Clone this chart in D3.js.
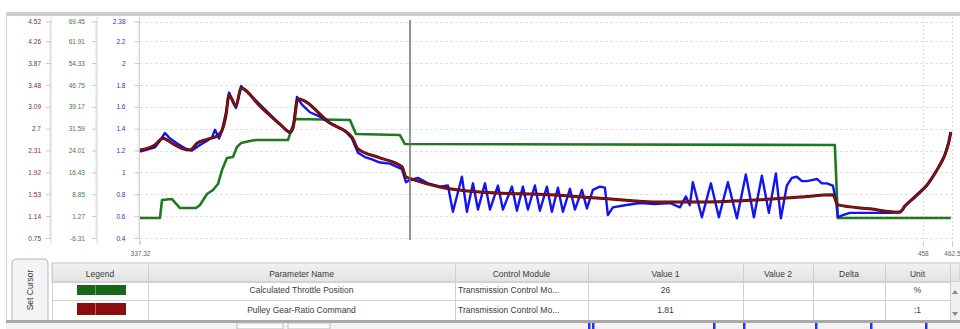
<!DOCTYPE html>
<html>
<head>
<meta charset="utf-8">
<script src="https://cdn.jsdelivr.net/npm/d3@7/dist/d3.min.js"></script>
<style>
  html, body { margin: 0; padding: 0; background: #ffffff; }
  svg { display: block; font-family: "Liberation Sans", Arial, sans-serif; }
</style>
</head>
<body>
<svg id="chart" width="960" height="329"></svg>
<script>
// ---------------- DATA ----------------
// time axis
const xDomain = [337.32, 462.5];
const xTickValues = [337.32, 458, 462.5];
const cursorTime = 378.94;

// blue trace (left blue axis)
const blueTicks = [0.4, 0.6, 0.8, 1, 1.2, 1.4, 1.6, 1.8, 2, 2.2];
const blueTop = 2.38;
// red axis (Pulley Gear-Ratio Command)
const redTicks = [0.75, 1.14, 1.53, 1.92, 2.31, 2.7, 3.09, 3.48, 3.87, 4.26];
const redTopLabel = "4.52";
const redTop = 4.611;
// green axis (Calculated Throttle Position, %)
const greenTicks = [-6.31, 1.27, 8.85, 16.43, 24.01, 31.59, 39.17, 46.75, 54.33, 61.91];
const greenTopLabel = "69.45";
const greenTop = 68.73;

// Calculated Throttle Position (%)
const throttleTime = [337.32, 340.40, 340.71, 342.25, 343.49, 345.95, 346.57, 347.65, 348.57, 349.34,
  349.96, 350.73, 351.65, 352.27, 352.89, 354.27, 355.20, 360.13, 360.75, 361.21,
  369.69, 370.61, 377.39, 378.17, 444.44, 444.90, 462.32];
const throttleValue = [0.62, 0.62, 6.85, 7.20, 4.08, 4.08, 5.12, 8.93, 10.32, 12.40,
  17.25, 21.41, 21.75, 25.22, 26.60, 27.29, 27.64, 27.64, 31.80, 34.92,
  34.57, 29.72, 29.37, 26.26, 25.91, 0.62, 0.62];

// Pulley Gear-Ratio Command (:1)
const pulleyTime = [337.32, 339.63, 340.87, 342.25, 343.95, 345.03, 346.11, 347.65, 349.19, 349.96,
  350.58, 351.04, 352.12, 352.89, 355.82, 358.90, 360.44, 360.90, 361.67, 366.61,
  370.00, 370.92, 374.31, 377.70, 378.32, 379.24, 383.56, 389.73, 400.51, 408.22,
  417.47, 423.63, 432.88, 439.05, 444.13, 444.90, 449.84, 454.46, 455.23, 456.77,
  458.62, 460.16, 461.40, 462.01, 462.32];
const pulleyValue = [2.32, 2.41, 2.53, 2.44, 2.34, 2.32, 2.44, 2.51, 2.57, 2.67,
  2.94, 3.30, 3.10, 3.42, 3.10, 2.78, 2.64, 2.71, 3.23, 2.80,
  2.55, 2.34, 2.18, 2.02, 1.84, 1.80, 1.66, 1.57, 1.52, 1.46,
  1.39, 1.39, 1.43, 1.48, 1.52, 1.34, 1.27, 1.21, 1.32, 1.48,
  1.69, 1.96, 2.23, 2.46, 2.64];

// Actual ratio trace (blue axis)
const actualTime = [337.32, 339.63, 340.40, 341.17, 341.94, 343.18, 344.26, 345.34, 346.57, 347.65,
  348.42, 348.88, 349.50, 349.96, 350.58, 351.04, 352.12, 352.89, 355.82, 358.90,
  360.44, 360.90, 361.52, 362.29, 363.52, 365.06, 366.61, 368.92, 370.00, 370.92,
  372.00, 373.08, 374.31, 375.85, 377.70, 378.32, 378.94, 380.17, 381.71, 383.56,
  384.79, 385.56, 386.95, 387.72, 388.65, 389.42, 390.50, 391.27, 392.50, 393.27,
  394.66, 395.43, 396.35, 397.12, 398.20, 398.97, 400.05, 400.82, 401.75, 402.52,
  403.60, 404.37, 405.45, 406.22, 407.14, 408.22, 408.99, 409.45, 410.22, 412.07,
  414.39, 416.70, 419.01, 420.55, 421.48, 422.09, 422.55, 423.94, 425.33, 426.56,
  427.95, 429.34, 430.72, 431.96, 433.19, 434.27, 435.35, 436.12, 437.04, 437.81,
  438.58, 439.36, 440.13, 440.90, 441.67, 442.44, 443.21, 444.13, 444.60, 444.90,
  445.67, 446.75, 449.84, 452.92, 454.46, 454.92, 455.23, 456.77, 458.62, 460.16,
  461.40, 462.01, 462.32];
const actualValue = [1.19, 1.23, 1.29, 1.36, 1.31, 1.26, 1.22, 1.20, 1.25, 1.29,
  1.32, 1.39, 1.31, 1.38, 1.55, 1.73, 1.59, 1.79, 1.62, 1.44,
  1.36, 1.40, 1.69, 1.62, 1.55, 1.51, 1.45, 1.38, 1.31, 1.18,
  1.14, 1.12, 1.09, 1.08, 1.03, 0.91, 0.93, 0.95, 0.90, 0.87,
  0.88, 0.64, 0.96, 0.64, 0.90, 0.66, 0.90, 0.66, 0.88, 0.66,
  0.87, 0.65, 0.87, 0.66, 0.88, 0.65, 0.87, 0.64, 0.86, 0.64,
  0.85, 0.66, 0.84, 0.67, 0.84, 0.87, 0.86, 0.61, 0.68, 0.70,
  0.72, 0.71, 0.72, 0.68, 0.78, 0.70, 0.91, 0.59, 0.90, 0.59,
  0.91, 0.58, 0.98, 0.59, 0.97, 0.63, 0.99, 0.58, 0.88, 0.95,
  0.96, 0.92, 0.92, 0.93, 0.94, 0.90, 0.90, 0.88, 0.75, 0.59,
  0.61, 0.63, 0.63, 0.63, 0.64, 0.66, 0.69, 0.78, 0.88, 1.02,
  1.16, 1.28, 1.37];

// table
const tableHeaders = ["Legend", "Parameter Name", "Control Module", "Value 1", "Value 2", "Delta", "Unit"];
const paramNames = ["Calculated Throttle Position", "Pulley Gear-Ratio Command"];
const paramModules = ["Transmission Control Mo...", "Transmission Control Mo..."];
const paramValue1 = ["26", "1.81"];
const paramValue2 = ["", ""];
const paramDelta = ["", ""];
const paramUnits = ["%", ":1"];
const tabLabel = "Set Cursor";

// ---------------- DRAW ----------------
const svg = d3.select("#chart");
const colBlue = "#1414f0", colRed = "#8e1414", colRedDark = "#4e0808", colGreen = "#1f7a1f";
const plotL = 140, plotR = 952, plotT = 21.5, plotB = 238;

const x = d3.scaleLinear().domain(xDomain).range([plotL, plotR]);
const yBlue = d3.scaleLinear().domain([blueTicks[0], blueTop]).range([plotB, plotT]);
const yRed = d3.scaleLinear().domain([redTicks[0], redTop]).range([plotB, plotT]);
const yGreen = d3.scaleLinear().domain([greenTicks[0], greenTop]).range([plotB, plotT]);

// frame
svg.append("rect").attr("x", 6).attr("y", 12).attr("width", 954).attr("height", 4).attr("fill", "#cdcdcd");
svg.append("line").attr("x1", 6.5).attr("x2", 6.5).attr("y1", 12).attr("y2", 323).attr("stroke", "#d4d4d4");

// horizontal grid
svg.append("g").selectAll("line").data(blueTicks.concat([blueTop])).join("line")
  .attr("x1", plotL).attr("x2", plotR)
  .attr("y1", d => Math.round(yBlue(d)) + 0.5).attr("y2", d => Math.round(yBlue(d)) + 0.5)
  .attr("stroke", "#e3e3e3").attr("stroke-dasharray", "3,2");
// vertical grid
svg.append("g").selectAll("line").data(xTickValues.slice(1)).join("line")
  .attr("x1", d => Math.round(x(d)) + 0.5).attr("x2", d => Math.round(x(d)) + 0.5)
  .attr("y1", 17).attr("y2", 248)
  .attr("stroke", "#dddddd").attr("stroke-dasharray", "2,2");

// left axes
function drawAxis(xPos, scale, ticks, topVal, topLabel, color, pad) {
  const g = svg.append("g").attr("transform", `translate(${xPos},0)`);
  // minor ticks
  const minor = d3.range(0, 100).map(i => scale.domain()[0] + (scale.domain()[1] - scale.domain()[0]) * i / 99);
  g.append("g").call(d3.axisLeft(scale).tickValues(minor).tickSize(2).tickFormat(""))
    .call(s => s.select(".domain").remove())
    .selectAll("line").attr("stroke", "#dcdcdc");
  g.append("line").attr("x1", 0).attr("x2", 0).attr("y1", 17).attr("y2", 244).attr("stroke", "#d6d6d6");
  const ax = d3.axisLeft(scale).tickValues(ticks.concat([topVal])).tickSize(5).tickPadding(pad)
    .tickFormat(d => d === topVal ? topLabel : String(d));
  g.append("g").call(ax)
    .call(s => s.select(".domain").remove())
    .call(s => s.selectAll("line").attr("stroke", "#c8c8c8"))
    .call(s => s.selectAll("text").attr("fill", color).attr("font-size", 6.5)
      .attr("font-family", "'Liberation Sans', Arial, sans-serif"));
}
drawAxis(51, yRed, redTicks, redTop, redTopLabel, "#8a2a2a", 5);
drawAxis(97, yGreen, greenTicks, greenTop, greenTopLabel, "#3d7a3d", 7);
drawAxis(139.5, yBlue, blueTicks, blueTop, "2.38", "#3333bb", 9);

// x axis labels
const xa = svg.append("g").attr("transform", `translate(0,${plotB + 3})`)
  .call(d3.axisBottom(x).tickValues(xTickValues).tickSize(4).tickPadding(6).tickFormat(d => String(d)));
xa.select(".domain").remove();
xa.selectAll("line").attr("stroke", "#cccccc");
xa.selectAll("text").attr("fill", "#666").attr("font-size", 6.5)
  .attr("font-family", "'Liberation Sans', Arial, sans-serif");

// series
const lineGreen = d3.line().x((d, i) => x(throttleTime[i])).y(d => yGreen(d));
const lineBlue = d3.line().x((d, i) => x(actualTime[i])).y(d => yBlue(d));
const lineRed = d3.line().x((d, i) => x(pulleyTime[i])).y(d => yRed(d)).curve(d3.curveMonotoneX);

svg.append("path").datum(throttleValue).attr("d", lineGreen)
  .attr("fill", "none").attr("stroke", colGreen).attr("stroke-width", 2.6).attr("stroke-linejoin", "round");
svg.append("path").datum(actualValue).attr("d", lineBlue)
  .attr("fill", "none").attr("stroke", colBlue).attr("stroke-width", 2.4).attr("stroke-linejoin", "round");
svg.append("path").datum(pulleyValue).attr("d", lineRed)
  .attr("fill", "none").attr("stroke", colRedDark).attr("stroke-width", 3).attr("stroke-linejoin", "round");
svg.append("path").datum(pulleyValue).attr("d", lineRed)
  .attr("fill", "none").attr("stroke", colRed).attr("stroke-width", 1.5).attr("stroke-linejoin", "round");

// cursor
svg.append("line").attr("x1", x(cursorTime)).attr("x2", x(cursorTime))
  .attr("y1", 20).attr("y2", 240).attr("stroke", "#707070").attr("stroke-width", 1.5);

// ---------------- TABLE ----------------
const colEdges = [52, 148, 455, 588, 743, 813, 885, 950, 960];
const headerTop = 263, headerBot = 282, row1Bot = 300, row2Bot = 320;
const tbl = svg.append("g");
const hdrGrad = svg.append("defs").append("linearGradient").attr("id", "hdr").attr("x1", 0).attr("x2", 0).attr("y1", 0).attr("y2", 1);
hdrGrad.append("stop").attr("offset", "0%").attr("stop-color", "#f2f2f2");
hdrGrad.append("stop").attr("offset", "100%").attr("stop-color", "#e2e2e2");

tbl.append("rect").attr("x", colEdges[0]).attr("y", headerTop).attr("width", 960 - colEdges[0]).attr("height", headerBot - headerTop)
  .attr("fill", "url(#hdr)").attr("stroke", "#c4c4c4");
tbl.append("rect").attr("x", colEdges[7]).attr("y", headerBot).attr("width", 10).attr("height", row2Bot - headerBot).attr("fill", "#efefef");
// column lines
tbl.selectAll("line.col").data(colEdges.slice(0, 8)).join("line")
  .attr("x1", d => d + 0.5).attr("x2", d => d + 0.5).attr("y1", headerTop).attr("y2", row2Bot)
  .attr("stroke", "#cfcfcf");
// row lines
tbl.selectAll("line.row").data([headerBot, row1Bot]).join("line")
  .attr("x1", colEdges[0]).attr("x2", colEdges[7]).attr("y1", d => d + 0.5).attr("y2", d => d + 0.5)
  .attr("stroke", "#d2d2d2");
tbl.append("rect").attr("x", 6).attr("y", row2Bot).attr("width", 954).attr("height", 3).attr("fill", "#a9a9a9");
tbl.append("rect").attr("x", 6).attr("y", row2Bot + 3).attr("width", 954).attr("height", 6).attr("fill", "#f3f3f3");

const tStyle = s => s.attr("font-size", 8.5).attr("fill", "#3a3a3a").attr("font-family", "'Liberation Sans', Arial, sans-serif");
// header text
tbl.selectAll("text.h").data(tableHeaders).join("text")
  .attr("x", (d, i) => (colEdges[i] + colEdges[i + 1]) / 2).attr("y", 277).attr("text-anchor", "middle")
  .text(d => d).call(tStyle);

const rowY = [293, 313];
paramNames.forEach((name, r) => {
  const cells = [name, paramModules[r], paramValue1[r], paramValue2[r], paramDelta[r], paramUnits[r]];
  cells.forEach((c, j) => {
    const col = j + 1;
    const t = tbl.append("text").attr("y", rowY[r]).text(c).call(tStyle);
    if (col === 2) t.attr("x", colEdges[2] + 3).attr("text-anchor", "start");
    else t.attr("x", (colEdges[col] + colEdges[col + 1]) / 2).attr("text-anchor", "middle");
  });
});
// legend swatches
const swatchColors = [colGreen, colRed];
const swatchFill = ["#17661a", "#8a0e0e"];
[[285, 295], [303, 315]].forEach((yy, r) => {
  tbl.append("rect").attr("x", 77).attr("y", yy[0]).attr("width", 49).attr("height", yy[1] - yy[0]).attr("fill", swatchFill[r]);
  tbl.append("line").attr("x1", 95.5).attr("x2", 95.5).attr("y1", yy[0]).attr("y2", yy[1]).attr("stroke", "#ffffff").attr("stroke-opacity", 0.35);
});
// scroll arrows
tbl.append("path").attr("d", "M952,294 L955,290 L958,294 Z").attr("fill", "#888");
tbl.append("path").attr("d", "M952,312 L955,316 L958,312 Z").attr("fill", "#888");

// Set Cursor tab
tbl.append("path").attr("d", "M12,320 L12,264 Q12,259 17,259 L44,259 Q48,259 48,264 L48,320")
  .attr("fill", "#f4f4f4").attr("stroke", "#b4b4b4");
tbl.append("text").attr("transform", "translate(33,290) rotate(-90)").attr("text-anchor", "middle")
  .text(tabLabel).call(tStyle);

// bottom strip fragments
tbl.append("rect").attr("x", 237).attr("y", 323).attr("width", 46).attr("height", 6).attr("fill", "#fafafa").attr("stroke", "#bdbdbd");
tbl.append("rect").attr("x", 288).attr("y", 323).attr("width", 42).attr("height", 6).attr("fill", "#fafafa").attr("stroke", "#bdbdbd");
const markerX = [588, 592, 713, 743, 815, 870, 925];
tbl.selectAll("rect.mk").data(markerX).join("rect")
  .attr("x", d => d).attr("y", 323).attr("width", 2.5).attr("height", 6).attr("fill", "#1a3cf0");
</script>
</body>
</html>
